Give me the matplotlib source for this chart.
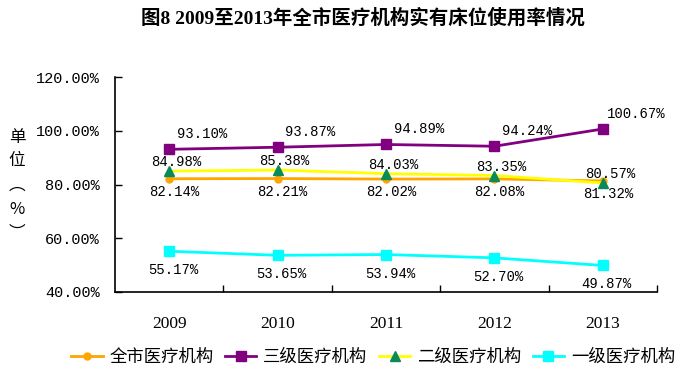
import matplotlib
matplotlib.use('Agg')
import matplotlib.pyplot as plt

years = ['2009', '2010', '2011', '2012', '2013']
all_rate = [82.14, 82.21, 82.02, 82.08, 81.32]
tier3_rate = [93.10, 93.87, 94.89, 94.24, 100.67]
tier2_rate = [84.98, 85.38, 84.03, 83.35, 80.57]
tier1_rate = [55.17, 53.65, 53.94, 52.70, 49.87]
names = ['全市医疗机构', '三级医疗机构', '二级医疗机构', '一级医疗机构']

CJK = ['Noto Sans CJK SC', 'DejaVu Sans']
MONO = ['Liberation Mono', 'Noto Sans CJK SC']
SERIF = ['Liberation Serif', 'Noto Sans CJK SC']

fig = plt.figure(figsize=(6.99, 3.89), dpi=100)
ax = fig.add_axes([0.1645, 0.2494, 0.7755, 0.5526])

x = list(range(1, len(years) + 1))

# (values, line colour, marker, marker colour, marker size, label offset px)
series = [
    (all_rate, '#FFA500', 'o', '#FFA500', 5, (5, 13)),
    (tier3_rate, '#800080', 's', '#800080', 6.5, (33, -15)),
    (tier2_rate, '#FFFF00', '^', '#0A8A5A', 6.5, (7, -9)),
    (tier1_rate, '#00FFFF', 's', '#00FFFF', 6.5, (4, 19)),
]

for (vals, color, marker, mcolor, ms, off), name in zip(series, names):
    ax.plot(x, vals, color=color, lw=2, marker=marker, ms=ms,
            mfc=mcolor, mec=mcolor, label=name)
    for xi, v in zip(x, vals):
        ax.annotate(f'{v:.2f}%', (xi, v), xytext=(off[0], -off[1]),
                    textcoords='offset pixels', ha='center', va='center',
                    fontsize=10, family=MONO, color='black')

ax.set_xlim(0.5, 5.5)
ax.set_ylim(40, 120)
ax.set_yticks([40, 60, 80, 100, 120])
ax.set_yticklabels([f'{t:.2f}%' for t in [40, 60, 80, 100, 120]],
                   family=MONO, fontsize=11)
ax.set_xticks([1.5, 2.5, 3.5, 4.5, 5.5], minor=False)
ax.set_xticklabels([])
ax.set_xticks(x, minor=True)
ax.set_xticklabels(years, minor=True, family=SERIF, fontsize=12.5)
ax.tick_params(axis='x', which='major', direction='in', length=5, width=1)
ax.tick_params(axis='x', which='minor', length=0, pad=17)
ax.tick_params(axis='y', direction='in', length=5, width=1, pad=11)
for s in ['top', 'right']:
    ax.spines[s].set_visible(False)
for s in ['left', 'bottom']:
    ax.spines[s].set_linewidth(1.2)

fig.text(0.519, 0.953, '图8 2009至2013年全市医疗机构实有床位使用率情况',
         ha='center', va='center', fontsize=14, fontweight='bold', family=SERIF)

for i, ch in enumerate(['单', '位', '︵', '%', '︶']):
    fig.text(17 / 699, 1 - (137 + i * 24) / 389, ch, ha='center', va='center',
             fontsize=12, family=CJK)

fig.legend(loc='center', bbox_to_anchor=(0.534, 0.082), ncol=4, frameon=False,
           prop={'family': CJK, 'size': 12.5}, handlelength=1.8,
           handletextpad=0.4, columnspacing=0.65)

fig.savefig('out.png', dpi=100)
